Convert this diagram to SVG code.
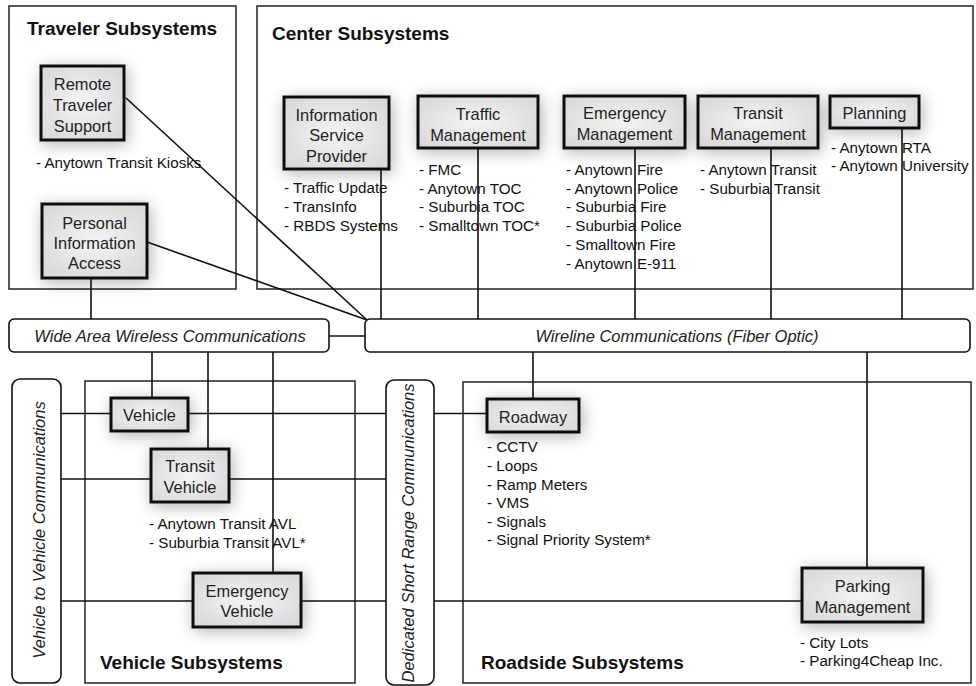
<svg xmlns="http://www.w3.org/2000/svg" width="976" height="686" viewBox="0 0 976 686">
<defs>
<style>
.cont{fill:none;stroke:#222;stroke-width:1.5}
.bar{fill:#fff;stroke:#111;stroke-width:1.6}
.node{fill:url(#ng);stroke:#111;stroke-width:3;filter:url(#sh)}
.ln{stroke:#111;stroke-width:1.6;fill:none}
.title{font-family:"Liberation Sans",Arial,sans-serif;font-weight:bold;font-size:19px;fill:#111}
.nt{font-family:"Liberation Sans",Arial,sans-serif;font-size:16.4px;fill:#222;text-anchor:middle}
.lt{font-family:"Liberation Sans",Arial,sans-serif;font-size:15.2px;fill:#111}
.bt{font-family:"Liberation Sans",Arial,sans-serif;font-size:16.5px;font-style:italic;fill:#222;text-anchor:middle}
</style>
<radialGradient id="ng" cx="50%" cy="50%" r="70%">
<stop offset="0" stop-color="#f4f4f4"/>
<stop offset="1" stop-color="#d6d6d6"/>
</radialGradient>
<filter id="sh" x="-40%" y="-60%" width="180%" height="220%">
<feGaussianBlur in="SourceAlpha" stdDeviation="8"/>
<feOffset dx="2" dy="3" result="b"/>
<feComponentTransfer><feFuncA type="linear" slope="0.3"/></feComponentTransfer>
<feMerge><feMergeNode/><feMergeNode in="SourceGraphic"/></feMerge>
</filter>
</defs>
<rect width="976" height="686" fill="#fff"/>

<g id="traveler-subsystems">
<rect class="cont" x="9" y="6" width="227" height="283"/>
<text class="title" x="27" y="35">Traveler Subsystems</text>
</g>
<g id="center-subsystems">
<rect class="cont" x="257" y="6" width="716" height="283"/>
<text class="title" x="272" y="39.5">Center Subsystems</text>
</g>
<g id="vehicle-subsystems">
<rect class="cont" x="85" y="381" width="270" height="302"/>
<text class="title" x="100" y="669">Vehicle Subsystems</text>
</g>
<g id="roadside-subsystems">
<rect class="cont" x="463" y="382" width="508" height="301"/>
<text class="title" x="481" y="669">Roadside Subsystems</text>
</g>

<g id="connectors">
<line class="ln" x1="126" y1="98" x2="367" y2="320"/>
<line class="ln" x1="147" y1="242" x2="367" y2="320"/>
<line class="ln" x1="91" y1="278" x2="91" y2="319"/>
<line class="ln" x1="381" y1="169" x2="381" y2="319"/>
<line class="ln" x1="478" y1="148" x2="478" y2="319"/>
<line class="ln" x1="635" y1="148" x2="635" y2="319"/>
<line class="ln" x1="771" y1="148" x2="771" y2="319"/>
<line class="ln" x1="902" y1="128" x2="902" y2="319"/>
<line class="ln" x1="329" y1="336" x2="365" y2="336"/>
<line class="ln" x1="152" y1="352" x2="152" y2="398"/>
<line class="ln" x1="208" y1="352" x2="208" y2="449"/>
<line class="ln" x1="273" y1="352" x2="273" y2="573"/>
<line class="ln" x1="61" y1="413.5" x2="386" y2="413.5"/>
<line class="ln" x1="61" y1="479" x2="386" y2="479"/>
<line class="ln" x1="61" y1="601" x2="386" y2="601"/>
<line class="ln" x1="434" y1="413.5" x2="487" y2="413.5"/>
<line class="ln" x1="434" y1="601" x2="802" y2="601"/>
<line class="ln" x1="533" y1="352" x2="533" y2="399"/>
<line class="ln" x1="867" y1="352" x2="867" y2="568"/>
</g>

<g id="wide-area-wireless">
<rect class="bar" x="9" y="319" width="320" height="33" rx="5"/>
<text class="bt" x="170" y="342">Wide Area Wireless Communications</text>
</g>
<g id="wireline">
<rect class="bar" x="365" y="319" width="605" height="33" rx="5"/>
<text class="bt" x="677" y="342">Wireline Communications (Fiber Optic)</text>
</g>
<g id="v2v">
<rect class="bar" x="12" y="379" width="49" height="304" rx="8"/>
<text class="bt" transform="translate(44.5,530) rotate(-90)">Vehicle to Vehicle Communications</text>
</g>
<g id="dsrc">
<rect class="bar" x="386" y="380" width="48" height="305" rx="8"/>
<text class="bt" transform="translate(414,533) rotate(-90)">Dedicated Short Range Communications</text>
</g>

<g id="remote-traveler-support">
<rect class="node" x="41" y="66" width="83" height="74"/>
<text class="nt" x="82.5" y="90">Remote</text>
<text class="nt" x="82.5" y="111">Traveler</text>
<text class="nt" x="82.5" y="132">Support</text>
<text class="lt" x="36" y="168">- Anytown Transit Kiosks</text>
</g>
<g id="personal-information-access">
<rect class="node" x="42" y="204" width="105" height="74"/>
<text class="nt" x="94.5" y="228.5">Personal</text>
<text class="nt" x="94.5" y="248.5">Information</text>
<text class="nt" x="94.5" y="268.5">Access</text>
</g>
<g id="information-service-provider">
<rect class="node" x="284" y="97" width="105" height="72"/>
<text class="nt" x="336.5" y="120.5">Information</text>
<text class="nt" x="336.5" y="141">Service</text>
<text class="nt" x="336.5" y="161.5">Provider</text>
<text class="lt" x="284" y="193">- Traffic Update</text>
<text class="lt" x="284" y="212">- TransInfo</text>
<text class="lt" x="284" y="231">- RBDS Systems</text>
</g>
<g id="traffic-management">
<rect class="node" x="418" y="96" width="120" height="52"/>
<text class="nt" x="478" y="119.5">Traffic</text>
<text class="nt" x="478" y="140.5">Management</text>
<text class="lt" x="419" y="175">- FMC</text>
<text class="lt" x="419" y="194">- Anytown TOC</text>
<text class="lt" x="419" y="212">- Suburbia TOC</text>
<text class="lt" x="419" y="231">- Smalltown TOC*</text>
</g>
<g id="emergency-management">
<rect class="node" x="564" y="96" width="121" height="52"/>
<text class="nt" x="624.5" y="119">Emergency</text>
<text class="nt" x="624.5" y="140">Management</text>
<text class="lt" x="566" y="174.5">- Anytown Fire</text>
<text class="lt" x="566" y="193.5">- Anytown Police</text>
<text class="lt" x="566" y="212">- Suburbia Fire</text>
<text class="lt" x="566" y="231">- Suburbia Police</text>
<text class="lt" x="566" y="250">- Smalltown Fire</text>
<text class="lt" x="566" y="268.5">- Anytown E-911</text>
</g>
<g id="transit-management">
<rect class="node" x="698" y="96" width="120" height="52"/>
<text class="nt" x="758" y="119">Transit</text>
<text class="nt" x="758" y="140">Management</text>
<text class="lt" x="700" y="174.5">- Anytown Transit</text>
<text class="lt" x="700" y="193.5">- Suburbia Transit</text>
</g>
<g id="planning">
<rect class="node" x="830" y="96" width="89" height="32"/>
<text class="nt" x="874.5" y="118.5">Planning</text>
<text class="lt" x="831" y="152.5">- Anytown RTA</text>
<text class="lt" x="831" y="170.5">- Anytown University</text>
</g>
<g id="vehicle">
<rect class="node" x="111" y="398" width="77" height="33"/>
<text class="nt" x="149.5" y="420.5">Vehicle</text>
</g>
<g id="transit-vehicle">
<rect class="node" x="151" y="449" width="78" height="53"/>
<text class="nt" x="190" y="471.5">Transit</text>
<text class="nt" x="190" y="492.5">Vehicle</text>
<text class="lt" x="149" y="529">- Anytown Transit AVL</text>
<text class="lt" x="149" y="548">- Suburbia Transit AVL*</text>
</g>
<g id="emergency-vehicle">
<rect class="node" x="193" y="573" width="108" height="54"/>
<text class="nt" x="247" y="597">Emergency</text>
<text class="nt" x="247" y="616.5">Vehicle</text>
</g>
<g id="roadway">
<rect class="node" x="487" y="399" width="92" height="33"/>
<text class="nt" x="533" y="422.5">Roadway</text>
<text class="lt" x="487" y="452">- CCTV</text>
<text class="lt" x="487" y="471">- Loops</text>
<text class="lt" x="487" y="490">- Ramp Meters</text>
<text class="lt" x="487" y="508">- VMS</text>
<text class="lt" x="487" y="527">- Signals</text>
<text class="lt" x="487" y="545">- Signal Priority System*</text>
</g>
<g id="parking-management">
<rect class="node" x="802" y="568" width="121" height="54"/>
<text class="nt" x="862.5" y="591.5">Parking</text>
<text class="nt" x="862.5" y="612.5">Management</text>
<text class="lt" x="800" y="648">- City Lots</text>
<text class="lt" x="800" y="666">- Parking4Cheap Inc.</text>
</g>
</svg>
